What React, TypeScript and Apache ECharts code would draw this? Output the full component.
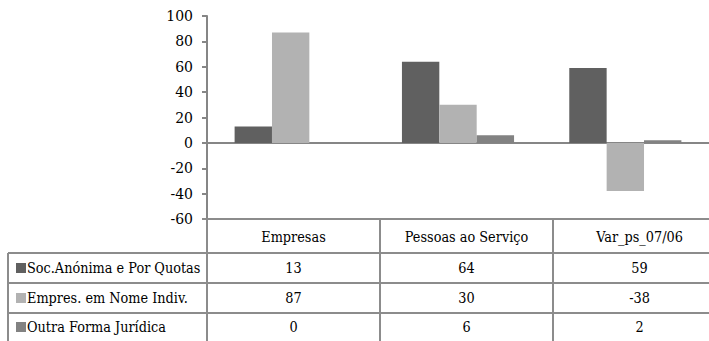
import React, { useEffect, useRef } from "react";
import * as echarts from "echarts";

const categories = ["Empresas", "Pessoas ao Serviço", "Var_ps_07/06"];
const seriesNames = ["Soc.Anónima e Por Quotas", "Empres. em Nome Indiv.", "Outra Forma Jurídica"];
const socAnonima = [13, 64, 59];
const empresIndiv = [87, 30, -38];
const outraForma = [0, 6, 2];
const seriesColors = ["#606060", "#b2b2b2", "#828282"];
const yMin = -60;
const yMax = 100;
const yStep = 20;

const FONT = "DejaVu Serif";
const GRID_LEFT = 207;
const GRID_TOP = 16;
const GRID_H = 203;
const CAT_W = 173;
const LINE = "#8c8c8c";

export default function App() {
  const ref = useRef<HTMLDivElement>(null);
  useEffect(() => {
    if (!ref.current) return;
    const chart = echarts.init(ref.current, null, { renderer: "svg" });
    const allSeries = [socAnonima, empresIndiv, outraForma];
    const tableTop = GRID_TOP + GRID_H; // 219
    const rowYs = [253, 283, 313];
    const bottom = 341;
    const right = 709;
    const graphics: any[] = [];
    const ln = (x1: number, y1: number, x2: number, y2: number) =>
      graphics.push({
        type: "line",
        shape: { x1, y1, x2, y2 },
        style: { stroke: LINE, lineWidth: 2 },
        z: 10,
      });
    ln(GRID_LEFT - 5, tableTop, right, tableTop);
    rowYs.forEach((y) => ln(8, y, right, y));
    ln(8, rowYs[0], 8, bottom);
    ln(GRID_LEFT, tableTop, GRID_LEFT, bottom);
    for (let i = 1; i <= categories.length; i++) {
      const x = GRID_LEFT + i * CAT_W;
      ln(x, tableTop, x, bottom);
    }
    const txt = (text: string, x: number, y: number, align: string) => ({
      type: "text",
      x,
      y,
      scaleX: 0.92,
      style: { text, fontSize: 14, fontFamily: FONT, fill: "#000", align, verticalAlign: "middle" },
      z: 11,
    });
    categories.forEach((c, i) => {
      graphics.push(txt(c, GRID_LEFT + (i + 0.5) * CAT_W, 237, "center"));
    });
    const rowCenters = [268, 298, 327];
    seriesNames.forEach((name, r) => {
      graphics.push({
        type: "rect",
        shape: { x: 16, y: rowCenters[r] - 5, width: 10, height: 10 },
        style: { fill: seriesColors[r] },
        z: 11,
      });
      graphics.push(txt(name, 27, rowCenters[r], "left"));
      allSeries[r].forEach((v, i) => {
        graphics.push(txt(String(v), GRID_LEFT + (i + 0.5) * CAT_W, rowCenters[r], "center"));
      });
    });

    chart.setOption({
      animation: false,
      backgroundColor: "#ffffff",
      textStyle: { fontFamily: FONT },
      grid: { left: GRID_LEFT, top: GRID_TOP, width: CAT_W * categories.length, height: GRID_H, containLabel: false },
      xAxis: {
        type: "category",
        data: categories,
        axisLine: { onZero: true, lineStyle: { color: "#868686", width: 2 } },
        axisTick: { show: false },
        axisLabel: { show: false },
        splitLine: { show: false },
      },
      yAxis: {
        type: "value",
        min: yMin,
        max: yMax,
        interval: yStep,
        axisLine: { show: true, lineStyle: { color: "#868686", width: 2 } },
        axisTick: { show: true, length: 5, lineStyle: { color: "#868686", width: 2 } },
        axisLabel: { fontSize: 14, fontFamily: FONT, color: "#000", margin: 14 },
        splitLine: { show: false },
      },
      series: allSeries.map((d, r) => ({
        type: "bar",
        name: seriesNames[r],
        data: d,
        barGap: "0%",
        barCategoryGap: "33%",
        itemStyle: { color: seriesColors[r] },
      })),
      graphic: graphics,
    });
    return () => chart.dispose();
  }, []);
  return (
    <div
      ref={ref}
      style={{ position: "absolute", left: 0, top: 0, width: 709, height: 341, background: "#fff" }}
    />
  );
}
